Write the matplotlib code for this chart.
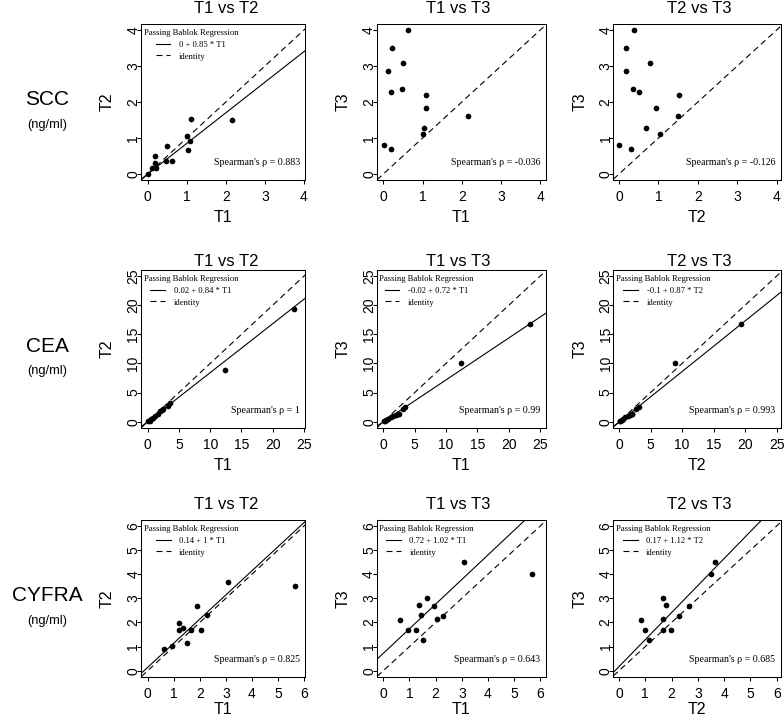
import matplotlib
matplotlib.use("Agg")
import matplotlib.pyplot as plt
from matplotlib.lines import Line2D
from matplotlib.font_manager import FontProperties

plt.rcParams["font.family"] = ["Liberation Sans", "DejaVu Sans"]

# ---------------- data ----------------
marker_names = ["SCC", "CEA", "CYFRA"]
marker_unit = "(ng/ml)"
pair_titles = ["T1 vs T2", "T1 vs T3", "T2 vs T3"]
pair_xlabels = ["T1", "T1", "T2"]
pair_ylabels = ["T2", "T3", "T3"]
axis_max = [4, 25, 6]
tick_step = [1, 5, 1]

# SCC (same patients in all three panels)
scc_t1 = [0.02, 0.19, 0.11, 0.22, 0.63, 0.47, 0.19, 0.50, 1.08, 1.03, 1.01, 1.10, 2.16]
scc_t2 = [0.00, 0.30, 0.18, 0.18, 0.37, 0.35, 0.50, 0.78, 0.93, 0.68, 1.05, 1.52, 1.50]
scc_t3 = [0.80, 0.69, 2.86, 3.50, 4.00, 2.35, 2.28, 3.09, 1.84, 1.27, 1.10, 2.20, 1.60]

# CEA
cea_t1 = [0.1, 0.3, 0.5, 0.8, 1.2, 1.6, 2.0, 2.3, 2.5, 3.2, 3.5, 12.3, 23.4]
cea_t2 = [0.1, 0.2, 0.4, 0.6, 1.0, 1.4, 1.8, 2.0, 2.1, 2.7, 3.2, 8.8, 19.3]
cea_t3 = [0.1, 0.2, 0.3, 0.4, 0.8, 1.0, 1.2, 1.4, 1.25, 2.1, 2.5, 10.0, 16.7]

# CYFRA (read panel by panel)
cyfra_12_t1 = [0.63, 0.95, 1.21, 1.21, 1.37, 1.50, 1.65, 1.88, 2.03, 2.26, 3.08, 5.66]
cyfra_12_t2 = [0.89, 1.02, 1.99, 1.69, 1.78, 1.13, 1.69, 2.70, 1.69, 2.32, 3.69, 3.50]
cyfra_13_t1 = [0.62, 0.95, 1.24, 1.38, 1.44, 1.51, 1.67, 1.92, 2.05, 2.28, 3.09, 5.68]
cyfra_13_t3 = [2.12, 1.70, 1.67, 2.71, 2.30, 1.29, 3.00, 2.67, 2.14, 2.25, 4.50, 4.00]
cyfra_23_t2 = [0.85, 1.00, 1.16, 1.67, 1.67, 1.78, 1.67, 1.97, 2.29, 2.65, 3.49, 3.67]
cyfra_23_t3 = [2.12, 1.70, 1.29, 1.67, 3.00, 2.72, 2.14, 1.70, 2.27, 2.67, 4.00, 4.50]

# Passing-Bablok intercepts / slopes (None = not drawn)
scc_pb_intercept = [0, None, None]
scc_pb_slope = [0.85, None, None]
cea_pb_intercept = [0.02, -0.02, -0.1]
cea_pb_slope = [0.84, 0.72, 0.87]
cyfra_pb_intercept = [0.14, 0.72, 0.17]
cyfra_pb_slope = [1, 1.02, 1.12]

# Spearman's rho
scc_rho = [0.883, -0.036, -0.126]
cea_rho = [1, 0.99, 0.993]
cyfra_rho = [0.825, 0.643, 0.685]

panel_points = [
    [(scc_t1, scc_t2), (scc_t1, scc_t3), (scc_t2, scc_t3)],
    [(cea_t1, cea_t2), (cea_t1, cea_t3), (cea_t2, cea_t3)],
    [(cyfra_12_t1, cyfra_12_t2), (cyfra_13_t1, cyfra_13_t3), (cyfra_23_t2, cyfra_23_t3)],
]
pb_intercepts = [scc_pb_intercept, cea_pb_intercept, cyfra_pb_intercept]
pb_slopes = [scc_pb_slope, cea_pb_slope, cyfra_pb_slope]
rhos = [scc_rho, cea_rho, cyfra_rho]

# ---------------- layout (pixels) ----------------
W, H = 784, 718
fig = plt.figure(figsize=(W / 100, H / 100), dpi=100)

col_box = [(141.0, 305.3), (376.7, 545.7), (613.3, 780.7)]
col_tick_px = [(147.7, 304.0), (383.3, 540.3), (619.0, 776.7)]
row_box = [(24.2, 179.8), (270.2, 427.5), (520.2, 676.5)]
title_x_px = [226.7, 457.7, 699.0]
title_y_px = [7.2, 259.7, 503.0]
xlabel_offset_px = [37.6, 37.6, 33.0]
row_label_x = 47

serif = "Liberation Serif"
leg_font = FontProperties(family=serif, size=6.2)
rho_font = FontProperties(family=serif, size=7.2)
dash = (5.4, 3.6)

for r in range(3):
    R = axis_max[r]
    ticks = list(range(0, R + 1, tick_step[r]))
    t, b = row_box[r]
    for c in range(3):
        l, rg = col_box[c]
        wpx, hpx = rg - l, b - t
        ax = fig.add_axes([l / W, 1 - b / H, wpx / W, hpx / H])
        x0p, xRp = col_tick_px[c]
        ax.set_xlim((l - x0p) / (xRp - x0p) * R, (rg - x0p) / (xRp - x0p) * R)
        ax.set_ylim(-0.04 * R, 1.04 * R)
        ax.set_xticks(ticks)
        ax.set_yticks(ticks)
        ax.tick_params(direction="out", length=3.1, width=0.75, labelsize=10,
                       color="black", labelcolor="black")
        ax.tick_params(axis="x", pad=4.5)
        ax.tick_params(axis="y", pad=2.4, labelrotation=90)
        for lbl in ax.get_yticklabels():
            lbl.set_ha("center")
            lbl.set_va("center")
        for sp in ax.spines.values():
            sp.set_linewidth(0.75)
            sp.set_color("black")

        xs, ys = panel_points[r][c]
        ax.scatter(xs, ys, s=4.1 ** 2, c="black", linewidths=0, zorder=3)

        a = pb_intercepts[r][c]
        s = pb_slopes[r][c]
        ax.axline((0, 0), slope=1, color="black", lw=0.8, dashes=dash)
        if a is not None:
            ax.axline((0, a), slope=s, color="black", lw=0.8)
            handles = [Line2D([], [], color="black", lw=0.8),
                       Line2D([], [], color="black", lw=0.8, dashes=dash)]
            labels = [f"{a:g} + {s:g} * {pair_xlabels[c]}", "identity"]
            ax.legend(handles, labels, title="Passing Bablok Regression",
                      loc="upper left", bbox_to_anchor=(2.5 / wpx, 1 - 4.5 / hpx),
                      frameon=False, borderpad=0, borderaxespad=0,
                      handlelength=1.7, handletextpad=1.0, labelspacing=0.45,
                      prop=leg_font, title_fontproperties=leg_font)

        ax.text(1 - 5.5 / wpx, 17 / hpx, f"Spearman's \u03c1 = {rhos[r][c]:g}",
                transform=ax.transAxes, ha="right", va="center",
                fontproperties=rho_font)

        ax.set_title(pair_titles[c], fontsize=12, va="center", pad=0,
                     x=(title_x_px[c] - l) / wpx,
                     y=1 + (t - title_y_px[r] - 1.7) / hpx)
        ax.set_xlabel(pair_xlabels[c], fontsize=11.5, va="center")
        ax.set_ylabel(pair_ylabels[c], fontsize=11.5, va="center")
        ax.xaxis.set_label_coords(0.5, -xlabel_offset_px[r] / hpx)
        ax.yaxis.set_label_coords(-33.4 / wpx, 0.5)

    yc = (t + b) / 2
    fig.text(row_label_x / W, 1 - (yc - 3.7 + 1) / H, marker_names[r],
             fontsize=15, ha="center", va="center")
    fig.text(row_label_x / W, 1 - (yc + 22 + 0.6) / H, marker_unit,
             fontsize=9.3, ha="center", va="center")

fig.savefig("out.png", dpi=100)
